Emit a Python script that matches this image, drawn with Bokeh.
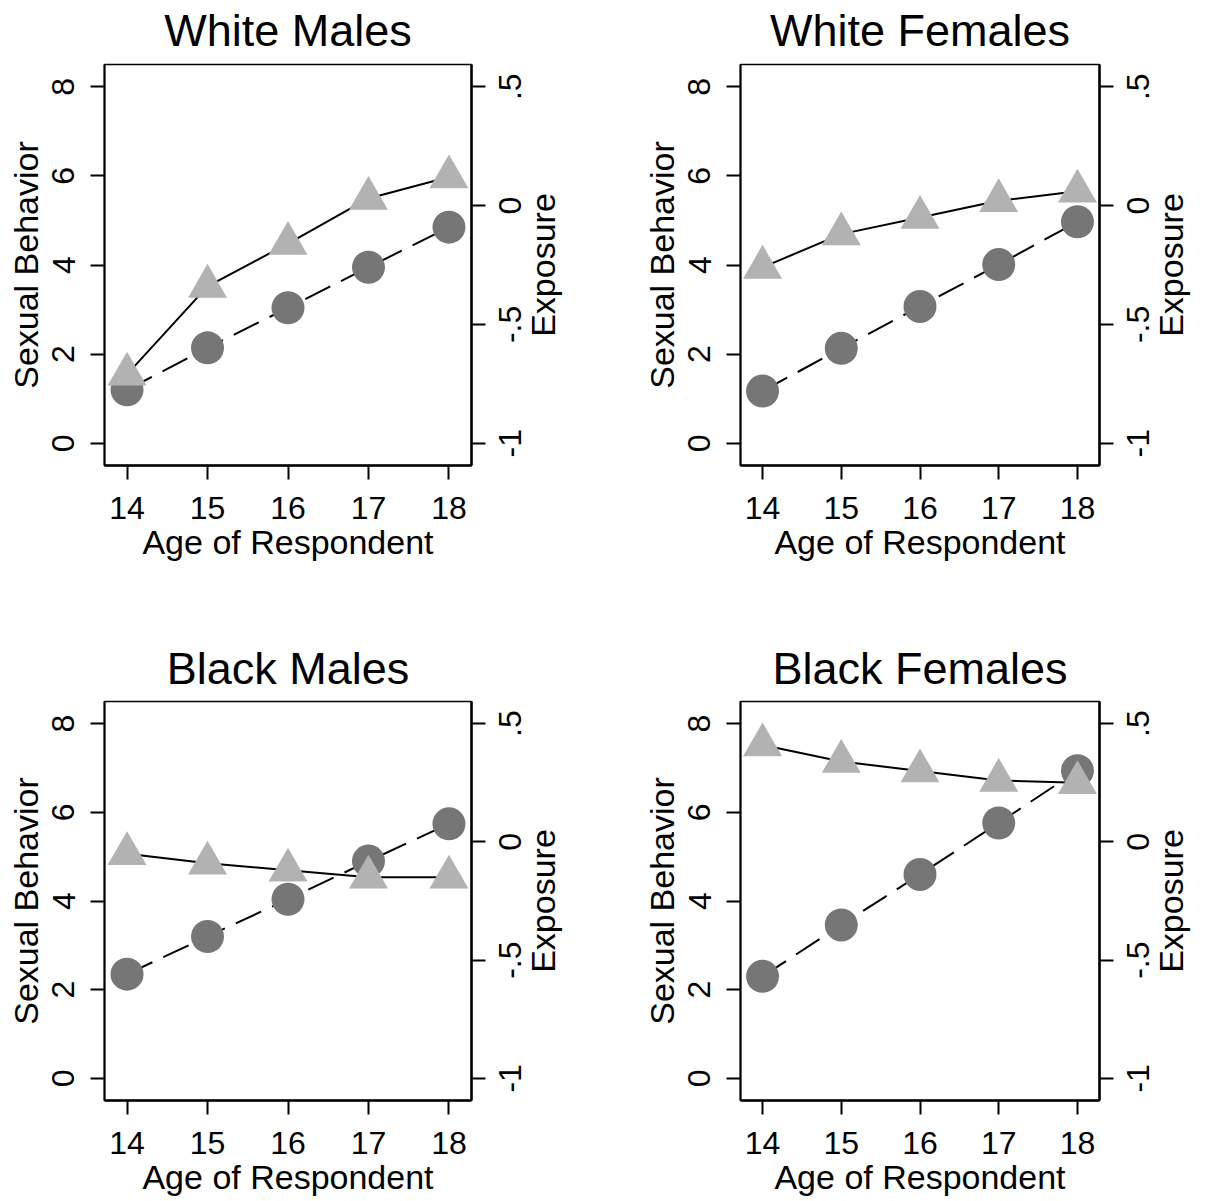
import math
from bokeh.plotting import figure
from bokeh.models import LinearAxis, Range1d, FixedTicker, CustomJSTickFormatter
from bokeh.layouts import column, row
from bokeh.embed import file_html
from bokeh.resources import INLINE

# ---------------- data ----------------
ages = [14, 15, 16, 17, 18]
age_ticks = [14, 15, 16, 17, 18]
behavior_ticks = [0, 2, 4, 6, 8]
exposure_ticks = [-1, -0.5, 0, 0.5]
exposure_tick_labels = ["-1", "-.5", "0", ".5"]

panel_titles = ["White Males", "White Females", "Black Males", "Black Females"]

# Sexual Behavior (left axis) - dark circles, dashed line
wm_behavior = [1.20, 2.14, 3.04, 3.95, 4.85]
wf_behavior = [1.17, 2.13, 3.07, 4.01, 4.97]
bm_behavior = [2.35, 3.20, 4.04, 4.90, 5.74]
bf_behavior = [2.30, 3.46, 4.60, 5.76, 6.94]

# Exposure (right axis) - light triangles, solid line
wm_exposure = [-0.71, -0.34, -0.16, 0.03, 0.12]
wf_exposure = [-0.26, -0.12, -0.05, 0.02, 0.06]
bm_exposure = [-0.05, -0.09, -0.12, -0.15, -0.15]
bf_exposure = [0.41, 0.34, 0.30, 0.26, 0.25]

FONT = "Liberation Sans"
TICK_PX = 32
LABEL_PX = 34
TITLE_PX = 45
X_MIN, X_MAX = 13.72, 18.28
Y_MIN, Y_MAX = -0.5, 8.5
E_MIN, E_MAX = -1.09375, 0.59375

# approximate Arial advance widths (em) used to centre the rotated right-hand texts
CHAR_EM = {"-": 0.333, ".": 0.278, "0": 0.556, "1": 0.556, "5": 0.556,
           "E": 0.667, "x": 0.5, "p": 0.556, "o": 0.556, "s": 0.5, "u": 0.556,
           "r": 0.333, "e": 0.556}

LABEL_JS = """
let best = 0;
for (let i = 0; i < pos.length; i++) {
  if (Math.abs(tick - pos[i]) < Math.abs(tick - pos[best])) best = i;
}
return labs[best];
"""


def text_px(s, size):
    return sum(CHAR_EM[c] for c in s) * size


def style_axis(ax, width):
    ax.axis_line_color = "black"
    ax.axis_line_width = width
    ax.major_tick_line_color = "black"
    ax.major_tick_line_width = 2
    ax.major_tick_out = 14
    ax.major_tick_in = 0
    ax.minor_tick_line_color = None
    ax.major_label_text_font = FONT
    ax.major_label_text_font_size = f"{TICK_PX}px"
    ax.major_label_text_color = "black"
    ax.axis_label_text_font = FONT
    ax.axis_label_text_font_size = f"{LABEL_PX}px"
    ax.axis_label_text_font_style = "normal"
    ax.axis_label_text_color = "black"


def bare_axis(ax):
    ax.axis_line_color = None
    ax.major_tick_line_color = None
    ax.minor_tick_line_color = None
    ax.major_tick_out = 0
    ax.major_tick_in = 0
    ax.minor_tick_out = 0
    ax.minor_tick_in = 0


def make_panel(title, beh, exp, w, h, bl, br, bt, bb, title_gap):
    frame_h = h - bt - bb
    per_px = (E_MAX - E_MIN) / frame_h
    p = figure(width=w, height=h,
               x_range=Range1d(X_MIN, X_MAX), y_range=Range1d(Y_MIN, Y_MAX),
               output_backend="svg", toolbar_location=None,
               min_border_left=bl, min_border_right=br,
               min_border_top=bt, min_border_bottom=bb)
    p.extra_y_ranges = {"exp": Range1d(E_MIN, E_MAX)}
    p.xgrid.visible = False
    p.ygrid.visible = False
    p.outline_line_color = "black"
    p.outline_line_width = 1.5
    p.background_fill_color = "white"
    p.border_fill_color = "white"

    xa = p.below[0]
    xa.ticker = FixedTicker(ticks=age_ticks)
    xa.axis_label = "Age of Respondent"
    style_axis(xa, 2.5)
    xa.major_label_standoff = 17
    xa.axis_label_standoff = 1

    ya = p.left[0]
    ya.ticker = FixedTicker(ticks=behavior_ticks)
    ya.axis_label = "Sexual Behavior"
    style_axis(ya, 2)
    ya.major_label_orientation = "vertical"
    ya.major_label_standoff = 16
    ya.axis_label_standoff = 5

    # panel title (drawn as the label of a bare axis above the frame)
    ta = LinearAxis(ticker=FixedTicker(ticks=[]), axis_label=title)
    style_axis(ta, 0)
    bare_axis(ta)
    ta.major_label_standoff = 0
    ta.axis_label_text_font_size = f"{TITLE_PX}px"
    ta.axis_label_standoff = title_gap
    p.add_layout(ta, "above")

    # right axis: tick marks (minor ticks at the true values) and labels rotated
    # to read bottom-to-top, centred on the true tick values
    shifted = [t - text_px(lab, TICK_PX) / 2.0 * per_px
               for t, lab in zip(exposure_ticks, exposure_tick_labels)]
    rl = LinearAxis(y_range_name="exp",
                    ticker=FixedTicker(ticks=shifted, minor_ticks=exposure_ticks),
                    formatter=CustomJSTickFormatter(
                        args=dict(pos=shifted, labs=exposure_tick_labels), code=LABEL_JS))
    style_axis(rl, 2.5)
    rl.major_tick_line_color = None
    rl.major_tick_out = 0
    rl.minor_tick_line_color = "black"
    rl.minor_tick_line_width = 2
    rl.minor_tick_out = 14
    rl.minor_tick_in = 0
    rl.major_label_orientation = math.pi / 2
    rl.major_label_standoff = 25
    p.add_layout(rl, "right")

    # outer right axis carrying the "Exposure" title, centred on the frame
    e_mid = (E_MIN + E_MAX) / 2.0
    e_pos = [e_mid - text_px("Exposure", LABEL_PX) / 2.0 * per_px]
    re = LinearAxis(y_range_name="exp", ticker=FixedTicker(ticks=e_pos),
                    formatter=CustomJSTickFormatter(
                        args=dict(pos=e_pos, labs=["Exposure"]), code=LABEL_JS))
    style_axis(re, 0)
    bare_axis(re)
    re.major_label_text_font_size = f"{LABEL_PX}px"
    re.major_label_orientation = math.pi / 2
    re.major_label_standoff = 8
    p.add_layout(re, "right")

    p.line(ages, beh, line_color="black", line_width=2, line_dash="28 12")
    p.scatter(ages, beh, marker="circle", size=33, fill_color="#767676", line_color=None)
    p.line(ages, exp, y_range_name="exp", line_color="black", line_width=2)
    p.scatter(ages, exp, y_range_name="exp", marker="triangle", size=39,
              fill_color="#b2b2b2", line_color=None)
    return p


p1 = make_panel(panel_titles[0], wm_behavior, wm_exposure, 606, 600, 104, 135, 64, 135, 9)
p2 = make_panel(panel_titles[1], wf_behavior, wf_exposure, 606, 600, 134, 112, 64, 135, 9)
p3 = make_panel(panel_titles[2], bm_behavior, bm_exposure, 606, 601, 104, 135, 101, 101, 8)
p4 = make_panel(panel_titles[3], bf_behavior, bf_exposure, 606, 601, 134, 112, 101, 101, 8)

layout = column(row(p1, p2), row(p3, p4))

with open("out.html", "w") as f:
    f.write(file_html(layout, INLINE))
